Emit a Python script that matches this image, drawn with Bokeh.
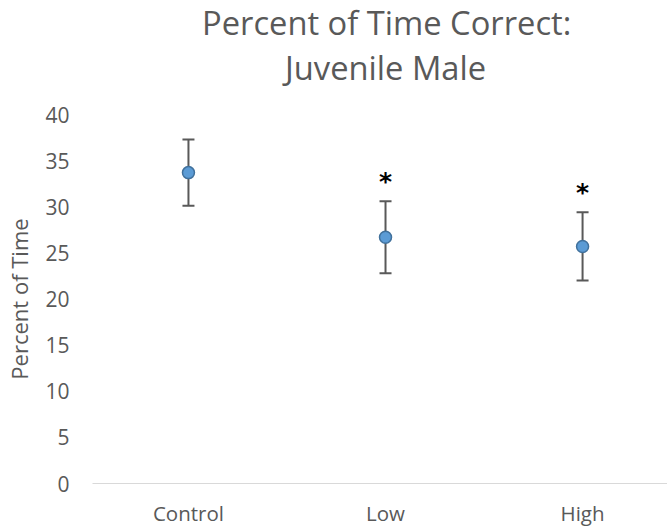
from bokeh.plotting import figure
from bokeh.models import (FixedTicker, Whisker, TeeHead, ColumnDataSource, Title,
                          Range1d)
from bokeh.core.properties import value
from bokeh.embed import file_html
from bokeh.resources import INLINE

# ---- data ----
categories = ["Control", "Low", "High"]
means = [33.7, 26.7, 25.7]
errors = [3.6, 3.9, 3.7]
significance = ["", "*", "*"]
y_ticks = [0, 5, 10, 15, 20, 25, 30, 35, 40]
title_lines = ["Percent of Time Correct:", "Juvenile Male"]
y_label = "Percent of Time"

FONT = "Open Sans"
TXT = "#595959"

xs = list(range(len(categories)))
src = ColumnDataSource(dict(
    x=xs, y=means,
    lower=[m - e for m, e in zip(means, errors)],
    upper=[m + e for m, e in zip(means, errors)],
))

p = figure(width=667, height=529, output_backend="svg", toolbar_location=None,
           x_range=Range1d(-0.487, 2.431), y_range=Range1d(0, 40),
           min_border_left=92, min_border_right=0, min_border_top=114,
           min_border_bottom=46)
p.outline_line_color = None
p.border_fill_color = "white"
p.background_fill_color = "white"
p.xgrid.grid_line_color = None
p.ygrid.grid_line_color = None

# x axis
p.xaxis.ticker = FixedTicker(ticks=xs)
p.xaxis.major_label_overrides = {i: c for i, c in enumerate(categories)}
p.xaxis.axis_line_color = "#d9d9d9"
p.xaxis.axis_line_width = 1
p.xaxis.major_tick_line_color = None
p.xaxis.minor_tick_line_color = None
p.xaxis.major_tick_out = 0
p.xaxis.major_tick_in = 0
p.xaxis.major_label_text_font = FONT
p.xaxis.major_label_text_font_size = "20.5px"
p.xaxis.major_label_text_color = TXT
p.xaxis.major_label_standoff = 15

# y axis
p.yaxis.ticker = FixedTicker(ticks=y_ticks)
p.yaxis.axis_line_color = None
p.yaxis.major_tick_line_color = None
p.yaxis.minor_tick_line_color = None
p.yaxis.major_tick_out = 0
p.yaxis.major_tick_in = 0
p.yaxis.major_label_text_font = FONT
p.yaxis.major_label_text_font_size = "21px"
p.yaxis.major_label_text_color = TXT
p.yaxis.major_label_standoff = 23
p.yaxis.axis_label = y_label
p.yaxis.axis_label_text_font = FONT
p.yaxis.axis_label_text_font_size = "22px"
p.yaxis.axis_label_text_font_style = "normal"
p.yaxis.axis_label_text_color = TXT
p.yaxis.axis_label_standoff = 8

# error bars
w = Whisker(source=src, base="x", lower="lower", upper="upper",
            line_color="#595959", line_width=2,
            upper_head=TeeHead(size=12, line_color="#595959", line_width=2),
            lower_head=TeeHead(size=12, line_color="#595959", line_width=2))
p.add_layout(w)

# points
p.scatter("x", "y", source=src, size=12, fill_color="#5b9bd5",
          line_color="#41719c", line_width=1.5)

# significance marks
sig_src = ColumnDataSource(dict(
    x=xs, y=[m + e for m, e in zip(means, errors)], t=significance))
p.text("x", "y", text="t", source=sig_src, y_offset=-5,
       text_align="center", text_baseline="bottom",
       text_font=value("DejaVu Sans"), text_font_size="25px",
       text_color="black", text_font_style="bold")

# title (first added sits closest to the frame)
p.add_layout(Title(text=title_lines[1], align="left", offset=192.5,
                   vertical_align="top", standoff=45, text_font=FONT,
                   text_font_size="32.7px", text_font_style="normal",
                   text_color=TXT), "above")
p.add_layout(Title(text=title_lines[0], align="left", offset=109.5,
                   vertical_align="bottom", standoff=-45, text_font=FONT,
                   text_font_size="32.7px", text_font_style="normal",
                   text_color=TXT), "above")

open("out.html", "w").write(file_html(p, INLINE))
